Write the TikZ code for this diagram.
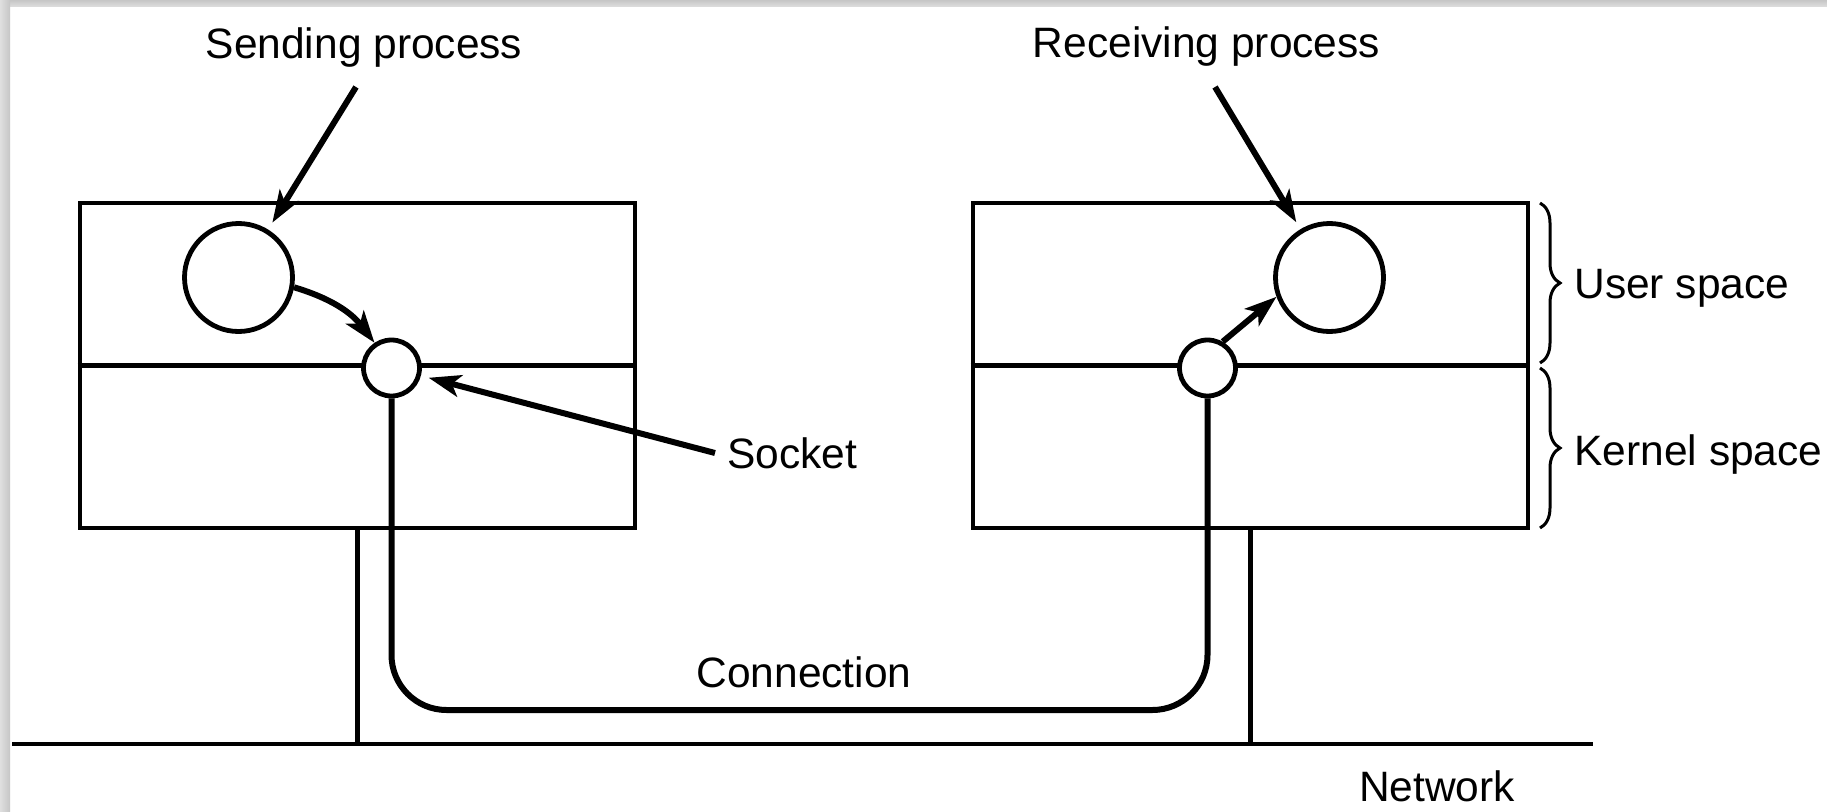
\documentclass[tikz,border=0pt]{standalone}
\usepackage{fontspec}
\setmainfont{Liberation Sans}
\usetikzlibrary{arrows.meta,decorations.pathreplacing}
\begin{document}
\begin{tikzpicture}[x=0.5pt,y=0.5pt,
  every node/.style={font=\fontsize{21.25}{25}\selectfont},
  hostbox/.style={draw,line width=2.3pt,minimum width=277.5pt,minimum height=162.5pt,inner sep=0pt},
  proc/.style={circle,draw,line width=2.4pt,minimum size=54pt,inner sep=0pt},
  sock/.style={circle,draw,line width=2.4pt,minimum size=28pt,inner sep=0pt},
  thinline/.style={line width=2.3pt},
  arr/.style={line width=3pt,-{Stealth[length=16pt,width=11pt,inset=4pt]}},
  conn/.style={line width=3pt,rounded corners=27.5pt},
  brc/.style={line width=1.5pt,decorate,decoration={brace,amplitude=10pt}},
  lbl/.style={inner sep=0pt,anchor=base}]
\useasboundingbox (0,0) rectangle (1827,811);
\fill[white] (0,0) rectangle (1827,811);
\shade[top color=gray!45,bottom color=gray!25] (0,804) rectangle (1827,811);
\shade[left color=gray!25,right color=gray!45] (0,0) rectangle (10,811);
% hosts
\node[hostbox] (hostL) at (357.5,445.5) {};
\node[hostbox] (hostR) at (1250.5,445.5) {};
\draw[thinline] (hostL.west) -- (hostL.east);
\draw[thinline] (hostR.west) -- (hostR.east);
% processes and sockets
\node[proc] (sendP) at (238.5,533.5) {};
\node[proc] (recvP) at (1329.5,533.5) {};
\node[fill=white,sock] (sockL) at (391.5,443) {};
\node[fill=white,sock] (sockR) at (1207.5,443) {};
% network
\coordinate (netL) at (12,67);
\coordinate (netR) at (1593,67);
\draw[line width=2.4pt] (netL) -- (netR);
\draw[thinline] (hostL.south) -- (hostL.south |- netL);
\draw[thinline] (hostR.south) -- (hostR.south |- netL);
% connection
\coordinate (cb) at (0,101);
\draw[conn] (sockL.south) -- (sockL.south |- cb) -- (sockR.south |- cb) -- (sockR.south);
% labels
\node[lbl] (sendT) at (364,753) {Sending process};
\node[lbl] (recvT) at (1206.5,754) {Receiving process};
\node[lbl,anchor=base west] (sockT) at (727,343) {Socket};
\node[lbl,anchor=base west] (userT) at (1574,513) {User space};
\node[lbl,anchor=base west] (kernT) at (1574,346) {Kernel space};
\node[lbl] (connT) at (804,124) {Connection};
\node[lbl] (netT) at (1437,10) {Network};
% arrows
\coordinate (sa) at (356,724);
\coordinate (ra) at (1215,724);
\coordinate (ka) at (715,358);
\draw[arr,shorten >=4pt] (sa) -- (sendP);
\draw[arr,shorten >=4pt] (ra) -- (recvP);
\draw[arr,shorten >=4pt] (ka) -- (sockL);
\draw[arr] (sendP.-10) to[bend left=18] (sockL.124);
\draw[arr] (sockR.60) -- (recvP.200);
% braces
\draw[brc] (1540,608) -- (1540,448);
\draw[brc] (1540,443) -- (1540,283);
\end{tikzpicture}
\end{document}
